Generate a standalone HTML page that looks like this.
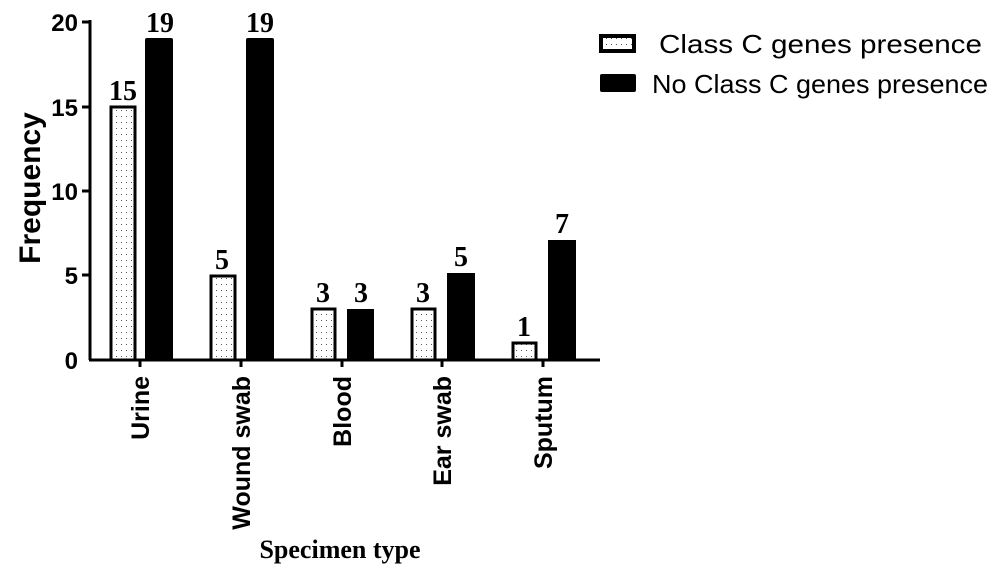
<!DOCTYPE html><html><head><style>body{margin:0;background:#fff}</style></head><body>
<svg width="1000" height="574" xmlns="http://www.w3.org/2000/svg">
<defs><pattern id="d" width="5" height="6" patternUnits="userSpaceOnUse"><rect width="5" height="6" fill="#fff"/><rect x="1" y="2" width="1" height="1" fill="#555"/></pattern></defs>
<g stroke="#000" stroke-width="3" fill="none">
<line x1="90" y1="20" x2="90" y2="360"/><line x1="89" y1="360" x2="600" y2="360"/>
<line x1="82" y1="22" x2="90" y2="22"/><line x1="82" y1="107" x2="90" y2="107"/><line x1="82" y1="191" x2="90" y2="191"/><line x1="82" y1="275" x2="90" y2="275"/>
<line x1="140" y1="360" x2="140" y2="367"/><line x1="241" y1="360" x2="241" y2="367"/><line x1="342" y1="360" x2="342" y2="367"/><line x1="442" y1="360" x2="442" y2="367"/><line x1="543" y1="360" x2="543" y2="367"/>
</g>
<g stroke="#000" stroke-width="3" fill="url(#d)">
<rect x="111" y="107" width="24" height="253"/><rect x="211" y="276" width="24" height="84"/><rect x="312" y="309" width="23" height="51"/><rect x="412" y="309" width="23" height="51"/><rect x="513" y="343" width="23" height="17"/>
<rect x="601" y="36" width="33" height="15" stroke-width="4"/>
</g>
<g fill="#000">
<rect x="145" y="38" width="28" height="322" rx="2"/><rect x="246" y="38" width="28" height="322" rx="2"/><rect x="347" y="309" width="27" height="51"/><rect x="447" y="273" width="28" height="87"/><rect x="548" y="240" width="28" height="120"/>
<rect x="600" y="74" width="36" height="18" rx="2"/>
</g>
<g font-family="Liberation Serif,serif" font-weight="bold" font-size="28" text-anchor="middle">
<text x="123" y="100">15</text><text x="160" y="32">19</text><text x="222" y="269">5</text><text x="260" y="32">19</text>
<text x="323" y="302">3</text><text x="361" y="302">3</text><text x="423" y="302">3</text><text x="461" y="266">5</text><text x="524" y="336">1</text><text x="562" y="233">7</text>
<text x="340" y="558" font-size="26">Specimen type</text>
</g>
<g font-family="Liberation Sans,sans-serif" font-weight="bold" font-size="24" text-anchor="end">
<text x="78" y="31">20</text><text x="78" y="116">15</text><text x="78" y="200">10</text><text x="78" y="284">5</text><text x="78" y="369">0</text>
</g>
<text transform="translate(40,188) rotate(-90)" font-family="Liberation Sans,sans-serif" font-weight="bold" font-size="30" text-anchor="middle">Frequency</text>
<g font-family="Liberation Sans,sans-serif" font-weight="bold" font-size="25" text-anchor="end">
<text transform="translate(149,376) rotate(-90)">Urine</text>
<text transform="translate(250,376) rotate(-90)">Wound swab</text>
<text transform="translate(351,376) rotate(-90)">Blood</text>
<text transform="translate(451,376) rotate(-90)">Ear swab</text>
<text transform="translate(552,376) rotate(-90)">Sputum</text>
</g>
<g font-family="Liberation Sans,sans-serif" font-size="26">
<text x="659" y="53" textLength="323" lengthAdjust="spacingAndGlyphs">Class C genes presence</text><text x="652" y="93" textLength="336" lengthAdjust="spacingAndGlyphs">No Class C genes presence</text>
</g>
</svg></body></html>
